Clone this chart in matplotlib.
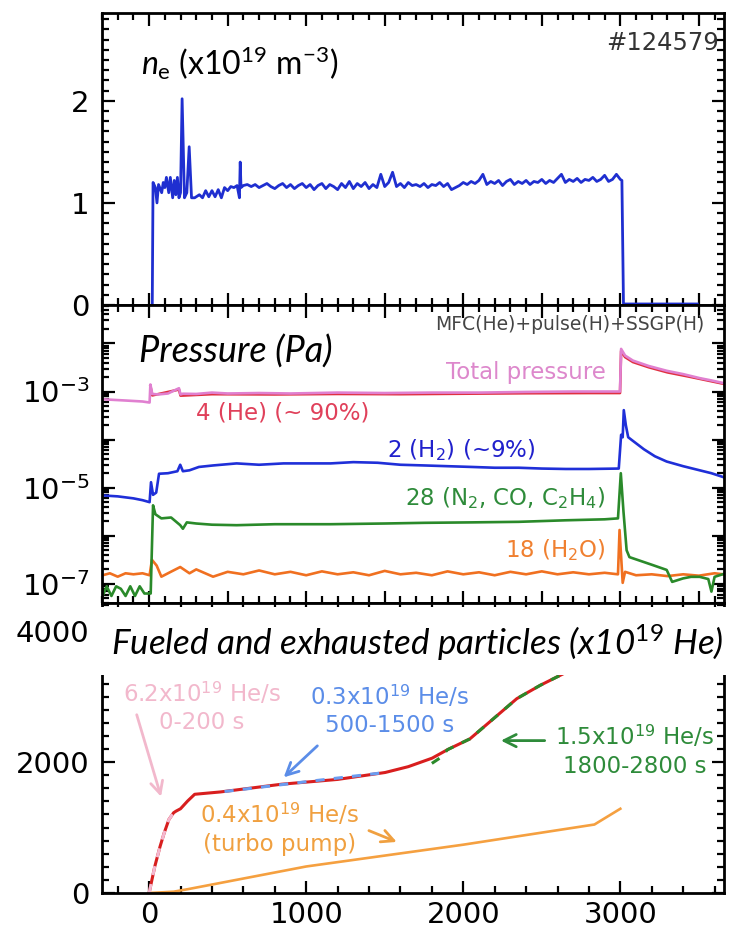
import matplotlib.pyplot as plt
from matplotlib.ticker import MultipleLocator, LogLocator, FuncFormatter, NullFormatter
from matplotlib.patches import Rectangle
import numpy as np

plt.rcParams['font.family'] = ['DejaVu Sans']
plt.rcParams['mathtext.fontset'] = 'custom'
plt.rcParams['mathtext.rm'] = 'Lato'
plt.rcParams['mathtext.it'] = 'Lato:italic'
plt.rcParams['mathtext.sf'] = 'DejaVu Sans'

# ---- electron density (x1e19 m^-3), (time s, value) ----
ne_pts = [(20, 0.0), (25, 1.2), (40, 1.15), (50, 1.0), (60, 1.18), (80, 1.1), (90, 1.2), (100, 1.15),
          (110, 1.25), (125, 1.1), (135, 1.25), (150, 1.05), (160, 1.22), (170, 1.08), (180, 1.25),
          (190, 1.05), (200, 1.1), (210, 2.02), (225, 1.05), (240, 1.1), (255, 1.55), (270, 1.05),
          (290, 1.05), (320, 1.08), (340, 1.05), (360, 1.12), (380, 1.06), (400, 1.12), (420, 1.06),
          (440, 1.13), (460, 1.05), (480, 1.15), (500, 1.12), (520, 1.16), (540, 1.15), (560, 1.17),
          (575, 1.05), (580, 1.40), (585, 1.15),
          (600, 1.17), (625, 1.18), (650, 1.16), (675, 1.18), (700, 1.15), (725, 1.17), (750, 1.19),
          (775, 1.16), (800, 1.14), (825, 1.17), (850, 1.19), (875, 1.15), (900, 1.18), (925, 1.14),
          (950, 1.17), (975, 1.19), (1000, 1.15), (1025, 1.18), (1050, 1.13), (1075, 1.17),
          (1100, 1.19), (1125, 1.14), (1150, 1.18), (1175, 1.16), (1200, 1.13), (1225, 1.19),
          (1250, 1.15), (1275, 1.21), (1300, 1.14), (1325, 1.19), (1350, 1.16), (1375, 1.20),
          (1400, 1.14), (1425, 1.18), (1450, 1.15), (1475, 1.28), (1500, 1.16), (1525, 1.20),
          (1550, 1.30), (1575, 1.16), (1600, 1.19), (1625, 1.15), (1650, 1.20), (1675, 1.17),
          (1700, 1.18), (1725, 1.16), (1750, 1.19), (1775, 1.15), (1800, 1.18), (1825, 1.17),
          (1850, 1.20), (1875, 1.16), (1900, 1.19), (1925, 1.13), (1950, 1.15), (1975, 1.17),
          (2000, 1.20), (2025, 1.18), (2050, 1.21), (2075, 1.19), (2100, 1.22), (2125, 1.28),
          (2150, 1.18), (2175, 1.21), (2200, 1.19), (2225, 1.22), (2250, 1.17), (2275, 1.21),
          (2300, 1.23), (2325, 1.18), (2350, 1.21), (2375, 1.19), (2400, 1.22), (2425, 1.18),
          (2450, 1.21), (2475, 1.20), (2500, 1.23), (2525, 1.19), (2550, 1.22), (2575, 1.20),
          (2600, 1.24), (2625, 1.28), (2650, 1.20), (2675, 1.23), (2700, 1.21), (2725, 1.24),
          (2750, 1.20), (2775, 1.23), (2800, 1.22), (2825, 1.25), (2850, 1.21), (2875, 1.23),
          (2900, 1.27), (2925, 1.21), (2950, 1.23), (2975, 1.28), (3000, 1.23), (3010, 1.22),
          (3020, 0.01), (3490, 0.01)]
ne_t = [p[0] for p in ne_pts]
ne_v = [p[1] for p in ne_pts]

# ---- partial pressures (Pa) ----
tot_t = [-296, -150, -42, 3, 8, 20, 60, 120, 190, 200, 215, 300, 400, 500, 700, 900, 1200,
         1500, 1800, 2100, 2400, 2700, 2950, 2998, 3005, 3030, 3080, 3180, 3295, 3400, 3505,
         3580, 3656]
tot_p = [6.9e-4, 6.5e-4, 6.2e-4, 5.9e-4, 1.4e-3, 8.9e-4, 8.7e-4, 9.1e-4, 1.17e-3, 8.7e-4, 9.0e-4,
         8.9e-4, 9.5e-4, 9.1e-4, 9.3e-4, 9.1e-4, 9.5e-4, 9.3e-4, 9.5e-4, 9.5e-4, 9.8e-4, 1.0e-3,
         1.0e-3, 1.0e-3, 7.7e-3, 5.6e-3, 4.4e-3, 3.4e-3, 2.7e-3, 2.3e-3, 1.9e-3, 1.7e-3, 1.5e-3]

he_t = [8, 20, 190, 200, 400, 800, 1200, 1600, 2000, 2400, 2800, 2998, 3005, 3030, 3080, 3180,
        3300, 3450, 3656]
he_p = [1.3e-3, 8.3e-4, 1.1e-3, 8.2e-4, 8.8e-4, 8.7e-4, 8.9e-4, 8.8e-4, 9.0e-4, 9.2e-4, 9.3e-4,
        9.3e-4, 7.0e-3, 5.2e-3, 4.1e-3, 3.2e-3, 2.5e-3, 2.0e-3, 1.45e-3]

h2_t = [-296, -200, -100, -42, 3, 12, 25, 45, 63, 120, 180, 198, 215, 257, 317, 407, 557, 700,
        856, 1000, 1156, 1300, 1455, 1600, 1754, 1900, 2054, 2200, 2353, 2500, 2653, 2800, 2990,
        3005, 3015, 3022, 3035, 3050, 3073, 3150, 3220, 3295, 3400, 3505, 3580, 3656]
h2_p = [6.9e-6, 6.6e-6, 6.0e-6, 5.5e-6, 5.0e-6, 1.3e-5, 7.1e-6, 7.9e-6, 1.95e-5, 2.0e-5, 2.2e-5,
        3.0e-5, 2.2e-5, 2.3e-5, 2.7e-5, 2.9e-5, 3.2e-5, 3.0e-5, 3.2e-5, 3.2e-5, 3.2e-5, 3.4e-5,
        3.3e-5, 3.0e-5, 2.9e-5, 2.8e-5, 2.7e-5, 2.6e-5, 2.6e-5, 2.5e-5, 2.45e-5, 2.45e-5, 2.5e-5,
        1.26e-4, 1.12e-4, 4.1e-4, 2.0e-4, 1.12e-4, 9.8e-5, 6.3e-5, 4.5e-5, 3.5e-5, 2.8e-5,
        2.3e-5, 2.0e-5, 1.66e-5]

n2_t = [-296, -270, -240, -210, -180, -150, -120, -90, -60, -30, 0, 10, 25, 40, 78, 140, 198,
        215, 240, 300, 400, 557, 800, 1156, 1500, 1754, 2054, 2353, 2653, 2900, 2985, 3003,
        3020, 3040, 3058, 3080, 3200, 3295, 3330, 3400, 3450, 3505, 3560, 3580, 3600, 3656]
n2_p = [5.6e-8, 8.9e-8, 5.6e-8, 8.9e-8, 7.9e-8, 5.6e-8, 8.9e-8, 5.6e-8, 8.9e-8, 6.3e-8, 6.3e-8,
        6.3e-8, 4.3e-6, 2.8e-6, 2.3e-6, 2.4e-6, 1.66e-6, 1.4e-6, 1.9e-6, 1.8e-6, 1.7e-6, 1.66e-6,
        1.74e-6, 1.74e-6, 1.8e-6, 1.86e-6, 1.9e-6, 1.95e-6, 2.1e-6, 2.2e-6, 2.3e-6, 2.0e-5,
        3.2e-6, 5.0e-7, 3.6e-7, 3.4e-7, 2.5e-7, 1.95e-7, 1.1e-7, 1.3e-7, 1.4e-7, 1.4e-7,
        1.26e-7, 6.9e-8, 1.4e-7, 1.6e-7]

h2o_t = [-296, -250, -200, -150, -100, -42, 3, 18, 48, 78, 138, 198, 257, 300, 407, 500, 600,
         700, 800, 900, 1000, 1100, 1200, 1300, 1400, 1500, 1600, 1700, 1800, 1900, 2000, 2100,
         2200, 2300, 2400, 2500, 2600, 2700, 2800, 2900, 2985, 2995, 3015, 3030, 3100, 3200,
         3300, 3400, 3500, 3600, 3656]
h2o_p = [1.51e-7, 1.66e-7, 1.41e-7, 1.66e-7, 1.58e-7, 1.66e-7, 1.51e-7, 3.16e-7, 2.4e-7, 1.41e-7,
         1.78e-7, 2.24e-7, 1.66e-7, 2.0e-7, 1.41e-7, 1.78e-7, 1.58e-7, 1.9e-7, 1.58e-7, 1.78e-7,
         1.51e-7, 1.82e-7, 1.58e-7, 1.74e-7, 1.51e-7, 1.86e-7, 1.58e-7, 1.7e-7, 1.51e-7, 1.82e-7,
         1.58e-7, 1.74e-7, 1.51e-7, 1.78e-7, 1.58e-7, 1.82e-7, 1.58e-7, 1.74e-7, 1.58e-7, 1.7e-7,
         1.58e-7, 1.32e-6, 1.05e-7, 1.78e-7, 1.51e-7, 1.58e-7, 1.45e-7, 1.58e-7, 1.48e-7,
         1.66e-7, 1.58e-7]

# ---- fueled / exhausted particles (x1e19 He) ----
fuel_t = [0, 36, 70, 96, 126, 156, 171, 200, 245, 290, 455, 844, 1200, 1503, 1650, 1802, 1900,
          2042, 2192, 2341, 2491, 2641, 2800, 3000]
fuel_n = [0, 405, 713, 918, 1123, 1226, 1250, 1287, 1405, 1508, 1544, 1662, 1735, 1841, 1930,
          2060, 2190, 2354, 2662, 2969, 3174, 3354, 3600, 3900]
fit1_t = [0, 36, 70, 96, 126, 156, 190]
fit1_n = [0, 405, 713, 918, 1123, 1226, 1260]
fit2_t = [480, 1000, 1500]
fit2_n = [1550, 1700, 1840]
fit3_t = [1800, 1850, 1900, 2042, 2192, 2341, 2491, 2641, 2800, 3000]
fit3_n = [1980, 2060, 2190, 2354, 2662, 2969, 3174, 3354, 3600, 3900]
pump_t = [0, 80, 156, 250, 1000, 2000, 2835, 3000]
pump_n = [0, 10, 20, 60, 405, 738, 1046, 1287]

fig = plt.figure(figsize=(7.35, 9.39), dpi=100)
L, W = 102 / 735, 622 / 735
ax1 = fig.add_axes([L, 1 - 305 / 939, W, 292 / 939])
ax2 = fig.add_axes([L, 1 - 603 / 939, W, 298 / 939])
ax3 = fig.add_axes([L, 1 - 893 / 939, W, 290 / 939])


def style(ax, xmaj, xmin):
    ax.tick_params(which='both', direction='in', top=True, right=True, labelsize=21, width=1.6)
    ax.tick_params(which='major', length=9)
    ax.tick_params(which='minor', length=5)
    ax.tick_params(axis='x', pad=6)
    ax.tick_params(axis='y', pad=9)
    for s in ax.spines.values():
        s.set_linewidth(2)
    ax.xaxis.set_major_locator(MultipleLocator(xmaj))
    ax.xaxis.set_minor_locator(MultipleLocator(xmin))
    ax.set_xlim(-300, 3660)


# top: density
style(ax1, 500, 100)
ax1.plot(ne_t, ne_v, color='#1f2fd0', lw=2)
ax1.set_ylim(0, 2.86)
ax1.yaxis.set_major_locator(MultipleLocator(1))
ax1.yaxis.set_minor_locator(MultipleLocator(0.1))
ax1.tick_params(labelbottom=False)
ax1.text(0.992, 0.897, '#124579', transform=ax1.transAxes, ha='right', va='center',
         fontsize=17.5, color='#333333')
ax1.text(0.063, 0.829, r'$\mathit{n}_{\mathrm{e}}$ (x10$^{19}$ m$^{-3}$)', transform=ax1.transAxes,
         ha='left', va='center', fontsize=23, family='Lato')

# middle: pressures
style(ax2, 500, 100)
ax2.set_yscale('log')
ax2.set_ylim(4e-8, 6.3e-2)
ax2.plot(h2o_t, h2o_p, color='#f07020', lw=1.9)
ax2.plot(n2_t, n2_p, color='#2a8a2a', lw=1.9)
ax2.plot(h2_t, h2_p, color='#1f2fd8', lw=1.9)
ax2.plot(he_t, he_p, color='#e03040', lw=1.9)
ax2.plot(tot_t, tot_p, color='#e080d0', lw=1.9)
ax2.yaxis.set_major_locator(LogLocator(base=10, numticks=20))
ax2.yaxis.set_minor_locator(LogLocator(base=10, subs=np.arange(2, 10), numticks=20))
ax2.yaxis.set_minor_formatter(NullFormatter())
ax2.yaxis.set_major_formatter(FuncFormatter(
    lambda v, p: r'$\mathsf{10^{%d}}$' % round(np.log10(v)) if round(np.log10(v)) in (-3, -5, -7) else ''))
ax2.tick_params(labelbottom=False)
ax2.text(0.969, 0.933, 'MFC(He)+pulse(H)+SSGP(H)', transform=ax2.transAxes, ha='right', va='center',
         fontsize=13.5, color='#444444')
ax2.text(0.059, 0.842, 'Pressure (Pa)', transform=ax2.transAxes, ha='left', va='center',
         fontsize=26, family='Lato', style='italic')
mid = dict(transform=ax2.transAxes, va='center', fontsize=16.5)
ax2.text(0.810, 0.775, 'Total pressure', ha='right', color='#dd88cc', **mid)
ax2.text(0.151, 0.638, '4 (He) (~ 90%)', ha='left', color='#e0405a', **mid)
ax2.text(0.458, 0.513, r'2 (H$_\mathsf{2}$) (~9%)', ha='left', color='#2020cc', **mid)
ax2.text(0.810, 0.352, r'28 (N$_\mathsf{2}$, CO, C$_\mathsf{2}$H$_\mathsf{4}$)', ha='right',
         color='#2e8b3a', **mid)
ax2.text(0.810, 0.178, r'18 (H$_\mathsf{2}$O)', ha='right', color='#f08030', **mid)

# bottom: particles
style(ax3, 1000, 200)
ax3.set_ylim(0, 4430)
ax3.yaxis.set_major_locator(MultipleLocator(2000))
ax3.yaxis.set_minor_locator(MultipleLocator(200))
ax3.plot(pump_t, pump_n, color='#f5a040', lw=1.9)
ax3.plot(fuel_t, fuel_n, color='#d81e1e', lw=2.2)
ax3.plot(fit1_t, fit1_n, color='#f4b8d0', lw=2.2, ls=(0, (3, 3)))
ax3.plot(fit2_t, fit2_n, color='#6a9cf0', lw=2.2, ls=(0, (3, 3)))
ax3.plot(fit3_t, fit3_n, color='#2a8a2a', lw=2.2, ls=(0, (3, 3)))

ann = dict(ha='center', va='center', fontsize=16.5, linespacing=1.25)
ax3.text(335, 2840, '6.2x10$^{\\mathsf{19}}$ He/s\n0-200 s', color='#f2b8cc', **ann)
ax3.annotate('', xy=(81, 1431), xytext=(-84, 2764),
             arrowprops=dict(arrowstyle='->', color='#f2b8cc', lw=2, mutation_scale=22))
ax3.text(1533, 2790, '0.3x10$^{\\mathsf{19}}$ He/s\n500-1500 s', color='#5b8de8', **ann)
ax3.annotate('', xy=(844, 1738), xytext=(1084, 2277),
             arrowprops=dict(arrowstyle='->', color='#5b8de8', lw=2, mutation_scale=22))
ax3.text(3090, 2175, '1.5x10$^{\\mathsf{19}}$ He/s\n1800-2800 s', color='#2e8b3a', **ann)
ax3.annotate('', xy=(2222, 2328), xytext=(2536, 2328),
             arrowprops=dict(arrowstyle='->', color='#2e8b3a', lw=2, mutation_scale=22))
ax3.text(829, 982, '0.4x10$^{\\mathsf{19}}$ He/s\n(turbo pump)', color='#f0a040', **ann)
ax3.annotate('', xy=(1593, 764), xytext=(1383, 969),
             arrowprops=dict(arrowstyle='->', color='#f0a040', lw=2, mutation_scale=22))

ax3.add_patch(Rectangle((-0.012, 0.752), 1.2, 0.235, transform=ax3.transAxes, facecolor='white',
                        edgecolor='none', clip_on=False, zorder=5))
ax3.text(0.0145, 0.862, r'Fueled and exhausted particles (x10$^{\mathit{19}}$ He)', transform=ax3.transAxes,
         ha='left', va='center', fontsize=25.2, family='Lato', style='italic', zorder=6)

fig.savefig('out.png', dpi=100)
